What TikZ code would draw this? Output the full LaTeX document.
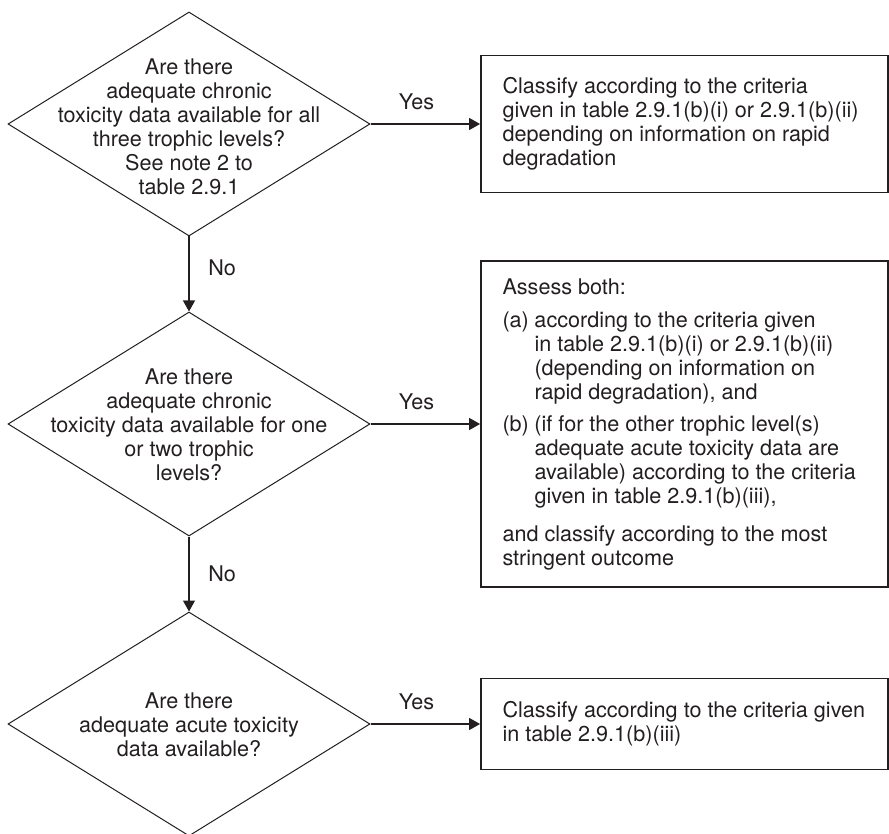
\documentclass[tikz,border=0pt]{standalone}
\usepackage{fontspec}
\setmainfont{TeX Gyre Heros}
\usetikzlibrary{shapes.geometric,arrows.meta}

\definecolor{ink}{HTML}{231F20}

\tikzset{
  question/.style={diamond, draw=ink, line width=0.5pt, inner sep=0pt,
                   minimum width=181pt, minimum height=112pt},
  qtext/.style={align=center, text=ink, inner sep=0pt},
  outcome/.style={draw=ink, line width=0.9pt, inner sep=0pt,
                  minimum width=203.5pt},
  otext/.style={align=left, text=ink, inner sep=0pt, anchor=west},
  flow/.style={draw=ink, line width=0.6pt,
               -{Triangle[length=5.5pt,width=6pt]}},
}

\begin{document}
\begin{tikzpicture}[x=0.5pt,y=-0.5pt]
    \useasboundingbox (0,0) rectangle (889,834);
    \begin{scope}[font=\fontsize{10.8}{12}\selectfont]

    % questions
    \node [question] (q1) at (189,124) {};
    \node [question] (q2) at (189,424) {};
    \node [question] (q3) at (189,724) {};
    \node [qtext] (q1t) at (189,127) {Are there\\adequate chronic\\toxicity data available for all\\three trophic levels?\\See note 2 to\\table 2.9.1};
    \node [qtext] (q2t) at (189,425) {Are there\\adequate chronic\\toxicity data available for one\\or two trophic\\levels?};
    \node [qtext] (q3t) at (189,725) {Are there\\adequate acute toxicity\\data available?};

    % outcomes
    \node [outcome, minimum height=68.5pt] (a1) at (684.5,124) {};
    \node [outcome, minimum height=163pt]  (a2) at (684.5,424) {};
    \node [outcome, minimum height=45.5pt] (a3) at (684.5,724) {};
    \node [otext] (a1t) at ([xshift=11pt]a1.west) {Classify according to the criteria\\given in table 2.9.1(b)(i) or 2.9.1(b)(ii)\\depending on information on rapid\\degradation};
    \node [otext] (a2t) at ([xshift=11pt]a2.west) {Assess both:\\[4.5pt]
        \makebox[16pt][l]{(a)}according to the criteria given\\
        \hspace*{16pt}in table 2.9.1(b)(i) or 2.9.1(b)(ii)\\
        \hspace*{16pt}(depending on information on\\
        \hspace*{16pt}rapid degradation), and\\[4pt]
        \makebox[16pt][l]{(b)}(if for the other trophic level(s)\\
        \hspace*{16pt}adequate acute toxicity data are\\
        \hspace*{16pt}available) according to the criteria\\
        \hspace*{16pt}given in table 2.9.1(b)(iii),\\[7pt]
        and classify according to the most\\stringent outcome};
    \node [otext] (a3t) at ([xshift=11pt]a3.west) {Classify according to the criteria given\\in table 2.9.1(b)(iii)};

    % connectors
    \draw [flow] (q1.east) -- node [above=3.5pt, pos=0.42, text=ink] {Yes} (a1.west);
    \draw [flow] (q2.east) -- node [above=3.5pt, pos=0.42, text=ink] {Yes} (a2.west);
    \draw [flow] (q3.east) -- node [above=3.5pt, pos=0.42, text=ink] {Yes} (a3.west);
    \draw [flow] (q1.south) -- node [right=6pt, pos=0.42, text=ink] {No} (q2.north);
    \draw [flow] (q2.south) -- node [right=6pt, pos=0.5, text=ink] {No} (q3.north);

    \end{scope}
\end{tikzpicture}
\end{document}
